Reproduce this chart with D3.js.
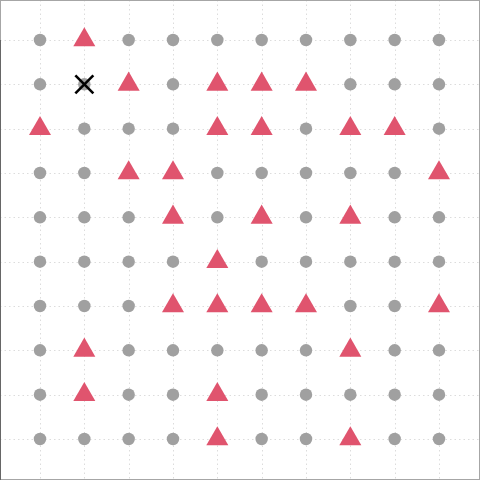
<!DOCTYPE html>
<html><head><meta charset="utf-8">
<script src="https://cdn.jsdelivr.net/npm/d3@7"></script>
<style>html,body{margin:0;padding:0;background:#fff;}svg{display:block;}</style>
</head><body>
<script>
const cols = [1,2,3,4,5,6,7,8,9,10];
const rows = [1,2,3,4,5,6,7,8,9,10];
// triangle cells per row (column numbers)
const triangleRow1 = [2];
const triangleRow2 = [3,5,6,7];
const triangleRow3 = [1,5,6,8,9];
const triangleRow4 = [3,4,10];
const triangleRow5 = [4,6,8];
const triangleRow6 = [5];
const triangleRow7 = [4,5,6,7,10];
const triangleRow8 = [2,8];
const triangleRow9 = [2,5];
const triangleRow10 = [5,8];
const crossCells = [[2,2]];

const triRows = [triangleRow1,triangleRow2,triangleRow3,triangleRow4,triangleRow5,triangleRow6,triangleRow7,triangleRow8,triangleRow9,triangleRow10];

const W = 480, H = 480;
const svg = d3.select("body").append("svg").attr("width",W).attr("height",H);
const x = d3.scaleLinear().domain([1,10]).range([40,439]);
const y = d3.scaleLinear().domain([1,10]).range([40,439]);

// grid
const g = svg.append("g");
g.selectAll("line.h").data(rows).join("line")
  .attr("x1",0).attr("x2",W).attr("y1",d=>Math.round(y(d))+0.5).attr("y2",d=>Math.round(y(d))+0.5)
  .attr("stroke","#dcdcdc").attr("stroke-width",1).attr("stroke-dasharray","1.5,3");
g.selectAll("line.v").data(cols).join("line")
  .attr("y1",0).attr("y2",H).attr("x1",d=>Math.round(x(d))+0.5).attr("x2",d=>Math.round(x(d))+0.5)
  .attr("stroke","#dcdcdc").attr("stroke-width",1).attr("stroke-dasharray","1.5,3");

// cells
const cells = [];
rows.forEach((r,ri)=>cols.forEach(c=>{
  const tri = triRows[ri].includes(c);
  cells.push({r,c,tri});
}));

svg.selectAll("path.pt").data(cells).join("path")
  .attr("transform",d=>`translate(${x(d.c)},${y(d.r)})`)
  .attr("d",d=>d.tri ? d3.symbol(d3.symbolTriangle,210)() : d3.symbol(d3.symbolCircle,122)())
  .attr("fill",d=>d.tri ? "#e0546e" : "#a0a0a0");

// cross
svg.selectAll("g.cross").data(crossCells).join("g")
  .attr("transform",d=>`translate(${x(d[0])},${y(d[1])})`)
  .each(function(){
    const s=d3.select(this);
    s.append("line").attr("x1",-9).attr("y1",-9).attr("x2",9).attr("y2",9).attr("stroke","#000").attr("stroke-width",2.6);
    s.append("line").attr("x1",-9).attr("y1",9).attr("x2",9).attr("y2",-9).attr("stroke","#000").attr("stroke-width",2.6);
  });

// frame
svg.append("rect").attr("x",0.5).attr("y",0.5).attr("width",W-1).attr("height",H-1)
  .attr("fill","none").attr("stroke","#a6a6a6");
svg.append("line").attr("x1",0.5).attr("x2",0.5).attr("y1",40).attr("y2",H).attr("stroke","#666");
</script>
</body></html>
